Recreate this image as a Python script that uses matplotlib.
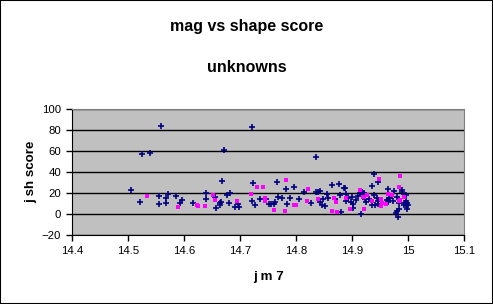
import matplotlib.pyplot as plt
from matplotlib.patches import Rectangle

plt.rcParams['font.family'] = ['Liberation Sans', 'DejaVu Sans']

# ----------------------------
# Data
# ----------------------------
blue_x = [14.505, 14.52, 14.525, 14.539, 14.554, 14.554, 14.559, 14.57, 14.568, 14.568,
          14.586, 14.595, 14.593, 14.616, 14.639, 14.639, 14.654, 14.657, 14.663, 14.666,
          14.663, 14.668, 14.670, 14.677, 14.682, 14.679, 14.695, 14.691, 14.697, 14.72,
          14.723, 14.721, 14.727, 14.736, 14.746, 14.751, 14.754, 14.761, 14.762, 14.766,
          14.768, 14.775, 14.782, 14.784, 14.789, 14.795, 14.805, 14.814, 14.827, 14.836,
          14.836, 14.839, 14.842, 14.843, 14.845, 14.852, 14.848, 14.855, 14.857, 14.864,
          14.869, 14.877, 14.878, 14.88, 14.885, 14.887, 14.889, 14.888, 14.893, 14.898,
          14.9, 14.902, 14.901, 14.906, 14.91, 14.915, 14.918, 14.915, 14.914, 14.917,
          14.92, 14.923, 14.93, 14.925, 14.938, 14.946, 14.936, 14.938, 14.935, 14.94,
          14.944, 14.945, 14.946, 14.962, 14.964, 14.966, 14.968, 14.964, 14.973, 14.975,
          14.98, 14.983, 14.988, 14.988, 14.996, 14.992, 14.996, 15.0, 14.997, 14.997,
          14.983, 14.98, 14.978, 14.982, 14.996, 14.994]
blue_y = [22.9, 11.4, 57.1, 58.1, 17.1, 9.5, 83.8, 19, 15.2, 10.5,
          17.1, 13.3, 10.5, 10.5, 20, 14.3, 16.2, 5.7, 10.5, 11.4,
          8.6, 31.4, 61, 18.1, 20, 10.5, 9.5, 6.7, 6.7, 83,
          29.5, 12.4, 8.6, 14.3, 14.3, 9.5, 9.5, 9.5, 11.4, 30.5,
          16.2, 15.2, 23.4, 9.5, 15.2, 25.7, 14.3, 21, 10.5, 54.3,
          21.2, 21.2, 21.5, 11.7, 8.2, 7.9, 14.3, 19, 15.2, 27.6,
          14.3, 28.6, 18.1, 1.5, 24.8, 24.8, 19, 12, 14.9, 11.4,
          15.8, 9.5, 5.7, 13.3, 17.4, 20, 21, 0, 20, 19,
          20, 13.9, 13.9, 11.4, 38.1, 30.1, 26.9, 18.1, 8.6, 8.6,
          15.5, 12, 9.5, 13.3, 23.8, 14.9, 14.9, 11.4, 12, 21.5,
          16.5, 10.5, 22.5, 21, 18.4, 8.2, 8.2, 8.2, 10.1, 4.8,
          4.8, 3.1, 1, -2.6, 12.7, 10.5]

pink_x = [14.533, 14.589, 14.623, 14.625, 14.637, 14.651, 14.655, 14.694, 14.719, 14.73,
          14.741, 14.744, 14.744, 14.76, 14.782, 14.78, 14.796, 14.8, 14.82, 14.819,
          14.839, 14.864, 14.867, 14.871, 14.873, 14.888, 14.895, 14.913, 14.92, 14.921,
          14.926, 14.919, 14.936, 14.947, 14.952, 14.953, 14.951, 14.96, 14.964, 14.971,
          14.985, 14.984, 14.993, 14.986, 14.984]
pink_y = [16.8, 6.3, 8.9, 7.9, 7.2, 17.7, 13.3, 12.7, 18.7, 25.3,
          25.3, 15.5, 12, 4.1, 32.7, 3.1, 8.2, 8.2, 24.1, 12.7,
          14.3, 3.1, 14.9, 11, 2.2, 14.9, 4.8, 23.1, 15.8, 5,
          18.4, 15.8, 12, 33, 14.6, 10.8, 7.9, 9.1, 18.7, 17.7,
          36.5, 25.3, 16.5, 13.3, 12]

x_ticks = [14.4, 14.5, 14.6, 14.7, 14.8, 14.9, 15.0, 15.1]
x_labels = ["14.4", "14.5", "14.6", "14.7", "14.8", "14.9", "15", "15.1"]
y_ticks = [-20, 0, 20, 40, 60, 80, 100]

# ----------------------------
# Figure
# ----------------------------
W, H = 493, 304
fig = plt.figure(figsize=(W / 100, H / 100), dpi=100)
fig.patches.append(Rectangle((0, 0), 1, 1, transform=fig.transFigure,
                             fill=False, edgecolor='black', linewidth=1.5))

ax = fig.add_axes([72.3 / W, 1 - 235 / H, (464.3 - 72.3) / W, (235 - 109) / H])
ax.set_facecolor('#C0C0C0')
for s in ax.spines.values():
    s.set_color('#808080')
ax.spines['left'].set_color('black')
ax.spines['bottom'].set_color('black')

ax.set_xlim(14.4, 15.1)
ax.set_ylim(-20, 100)
ax.set_xticks(x_ticks)
ax.set_xticklabels(x_labels)
ax.set_yticks(y_ticks)
ax.tick_params(axis='both', labelsize=8.2, length=4, width=1, direction='out', pad=4)
ax.yaxis.grid(True, color='black', linewidth=1.0)
ax.set_axisbelow(True)

ax.scatter(blue_x, blue_y, marker='+', s=13, linewidths=1.2, color='#000080', zorder=3)
ax.scatter(pink_x, pink_y, marker='s', s=6.5, linewidths=0, color='#FF00FF', zorder=3)

fig.text(0.5, 1 - 26 / H, "mag vs shape score", ha='center', va='center',
         fontsize=11.5, fontweight='bold')
fig.text(0.5, 1 - 67 / H, "unknowns", ha='center', va='center',
         fontsize=11.5, fontweight='bold')
fig.text((72.3 + 464.3) / 2 / W, 1 - 277 / H, "j m 7", ha='center', va='center',
         fontsize=9.6, fontweight='bold')
fig.text(31 / W, 1 - 172 / H, "j sh score", ha='center', va='center',
         rotation=90, fontsize=9.6, fontweight='bold')

fig.savefig("out.png", dpi=100)
